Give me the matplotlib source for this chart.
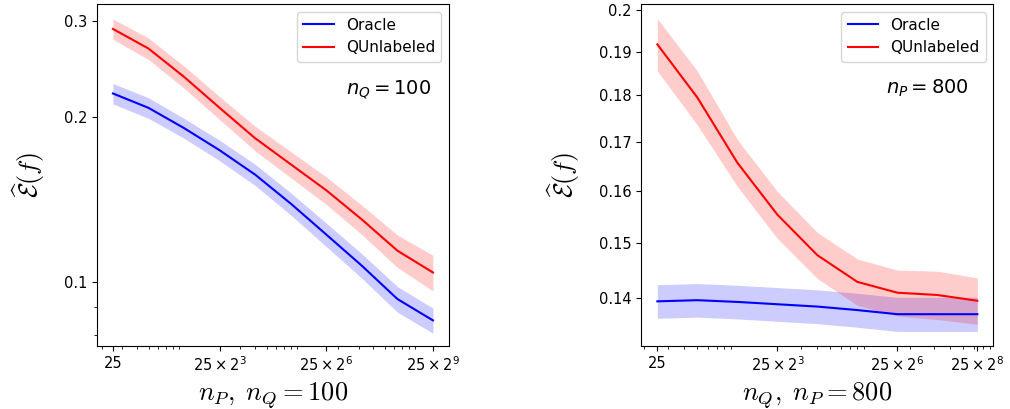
import numpy as np
import matplotlib
matplotlib.use("Agg")
import matplotlib.pyplot as plt
from matplotlib.ticker import NullLocator, NullFormatter

# left panel: vary n_P, n_Q = 100
k_left = np.arange(10)
nP = 25 * 2.0 ** k_left
oracle_left = [0.221, 0.208, 0.191, 0.174, 0.157, 0.139, 0.122, 0.107, 0.093, 0.085]
oracle_left_std = [0.0095, 0.009, 0.008, 0.0075, 0.007, 0.0065, 0.006, 0.0055, 0.005, 0.0045]
qunl_left = [0.290, 0.267, 0.237, 0.208, 0.183, 0.164, 0.147, 0.130, 0.114, 0.104]
qunl_left_std = [0.0125, 0.012, 0.011, 0.010, 0.0095, 0.009, 0.0085, 0.008, 0.0078, 0.0078]

# right panel: vary n_Q, n_P = 800
k_right = np.arange(9)
nQ = 25 * 2.0 ** k_right
oracle_right = [0.1395, 0.1397, 0.1394, 0.1390, 0.1386, 0.1380, 0.1373, 0.1373, 0.1373]
oracle_right_std = [0.0029] * 9
qunl_right = [0.1917, 0.1795, 0.1656, 0.1553, 0.1477, 0.1429, 0.1410, 0.1406, 0.1396]
qunl_right_std = [0.0062, 0.0060, 0.0048, 0.0045, 0.0042, 0.0041, 0.0040, 0.0042, 0.0040]


def panel(ax, x, o, o_std, q, q_std):
    o, o_std, q, q_std = map(np.array, (o, o_std, q, q_std))
    ax.plot(x, o, color='blue', label='Oracle')
    ax.fill_between(x, o - o_std, o + o_std, color='blue', alpha=0.2, linewidth=0)
    ax.plot(x, q, color='red', label='QUnlabeled')
    ax.fill_between(x, q - q_std, q + q_std, color='red', alpha=0.2, linewidth=0)
    ax.set_xscale('log')
    ax.set_yscale('log')
    ax.legend(loc='upper right', fontsize=11)
    ax.tick_params(labelsize=10.5)
    ax.set_ylabel(r'$\widehat{\mathcal{E}}(f)$', fontsize=18.5, math_fontfamily='cm',
                  labelpad=12)


fig = plt.figure(figsize=(10.1, 4.09), dpi=100)
ax1 = fig.add_axes([0.096, 0.154, 0.3485, 0.836])
ax2 = fig.add_axes([0.635, 0.154, 0.3485, 0.836])

panel(ax1, nP, oracle_left, oracle_left_std, qunl_left, qunl_left_std)
ax1.set_xticks([25, 200, 1600, 12800])
ax1.set_xticklabels(['25', r'$25\times2^3$', r'$25\times2^6$', r'$25\times2^9$'])
ax1.set_yticks([0.1, 0.2, 0.3])
ax1.set_yticklabels(['0.1', '0.2', '0.3'])
ax1.yaxis.set_minor_formatter(NullFormatter())
ax1.set_ylim(0.0763, 0.322)
ax1.set_xlabel(r'$n_P,\; n_Q = 100$', fontsize=19, math_fontfamily='cm')
ax1.text(0.949, 0.749, r'$n_Q = 100$', transform=ax1.transAxes,
         ha='right', va='center', fontsize=14)

panel(ax2, nQ, oracle_right, oracle_right_std, qunl_right, qunl_right_std)
ax2.set_xticks([25, 200, 1600, 6400])
ax2.set_xticklabels(['25', r'$25\times2^3$', r'$25\times2^6$', r'$25\times2^8$'])
yt = [0.14, 0.15, 0.16, 0.17, 0.18, 0.19, 0.2]
ax2.yaxis.set_minor_locator(NullLocator())
ax2.set_yticks(yt)
ax2.set_yticklabels(['0.14', '0.15', '0.16', '0.17', '0.18', '0.19', '0.2'])
ax2.set_ylim(0.132, 0.2015)
ax2.set_xlabel(r'$n_Q,\; n_P = 800$', fontsize=19, math_fontfamily='cm')
ax2.text(0.93, 0.754, r'$n_P = 800$', transform=ax2.transAxes,
         ha='right', va='center', fontsize=14)

fig.savefig('out.png', dpi=100)
